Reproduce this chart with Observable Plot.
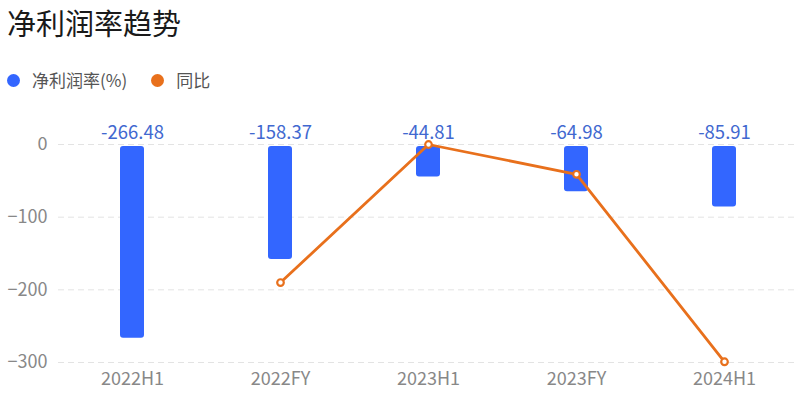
<!DOCTYPE html>
<html><head><meta charset="utf-8">
<script src="https://cdn.jsdelivr.net/npm/d3@7"></script>
<script src="https://cdn.jsdelivr.net/npm/@observablehq/plot@0.6"></script>
<style>
body{margin:0;background:#fff;font-family:"Noto Sans CJK SC","Noto Sans",sans-serif;width:802px;height:408px;overflow:hidden;}
#title{position:absolute;left:7px;top:3px;font-size:29px;color:#1a1a1a;line-height:38px;}
#legend{position:absolute;left:7px;top:68px;font-size:17px;color:#555;line-height:24px;display:flex;align-items:center;}
.item{display:flex;align-items:center;margin-right:24px;}
.dot{width:13px;height:13px;border-radius:50%;margin-right:12px;}
#chart{position:absolute;left:0;top:100px;}
</style></head>
<body>
<div id="title">净利润率趋势</div>
<div id="legend"></div>
<div id="chart"></div>
<script>
const periods = ["2022H1","2022FY","2023H1","2023FY","2024H1"];
const netMargin = [-266.48,-158.37,-44.81,-64.98,-85.91];
const yoyPeriods = ["2022FY","2023H1","2023FY","2024H1"];
const yoy = [-190, 0, -41, -299];
const yTicks = [0,-100,-200,-300];
const seriesNames = ["净利润率(%)","同比"];
const colors = ["#3366FF","#E8701C"];

const legend = document.getElementById("legend");
seriesNames.forEach((n,i)=>{
  const d=document.createElement("div");d.className="item";
  d.innerHTML=`<span class="dot" style="background:${colors[i]}"></span><span>${n}</span>`;
  legend.appendChild(d);
});

const bars = periods.map((p,i)=>({p, v: netMargin[i]}));
const line = yoyPeriods.map((p,i)=>({p, v: yoy[i]}));

const chart = Plot.plot({
  width: 802, height: 308,
  marginTop: 44, marginBottom: 46, marginLeft: 58, marginRight: 4,
  style: {fontFamily: '"Noto Sans CJK SC","Noto Sans",sans-serif', fontSize: "18px", color: "#888", background: "transparent"},
  x: {domain: periods, label: null, padding: 0, tickSize: 0, tickPadding: 10},
  y: {domain: [-300, 0], ticks: yTicks, label: null, tickSize: 0, tickPadding: 12},
  marks: [
    Plot.gridY(yTicks, {stroke: "#e3e3e3", strokeOpacity: 1, strokeDasharray: "6,4", strokeWidth: 1}),
    Plot.axisX({tickSize: 0, tickPadding: 10, fill: "#888", fontSize: 18, label: null}),
    Plot.axisY(yTicks, {tickSize: 0, tickPadding: 11, fill: "#888", fontSize: 18, label: null}),
    Plot.barY(bars, {x: "p", y: "v", fill: colors[0], rx: 3, insetLeft: 62, insetRight: 62, insetTop: 2}),
    Plot.text(bars, {x: "p", text: d => d.v.toFixed(2), frameAnchor: "top", dy: -19, fill: "#4168D0", fontSize: 18.5}),
    Plot.line(line, {x: "p", y: "v", stroke: colors[1], strokeWidth: 2.8}),
    Plot.dot(line, {x: "p", y: "v", r: 3.3, fill: "#fff", stroke: colors[1], strokeWidth: 2.2})
  ]
});
document.getElementById("chart").appendChild(chart);
</script>
</body></html>
